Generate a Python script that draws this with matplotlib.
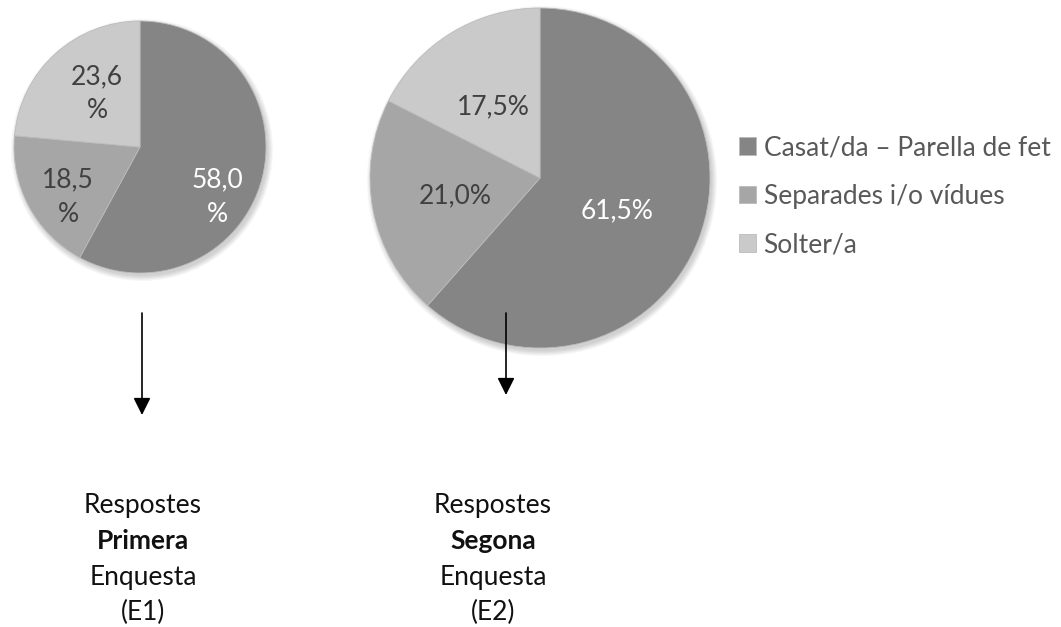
import matplotlib.pyplot as plt
from matplotlib.patches import Circle

# data
categories = ['Casat/da – Parella de fet', 'Separades i/o vídues', 'Solter/a']
e1_values = [58.0, 18.5, 23.6]
e2_values = [61.5, 21.0, 17.5]
e1_labels = ['58,0\n%', '18,5\n%', '23,6\n%']
e2_labels = ['61,5%', '21,0%', '17,5%']
colors = ['#858585', '#a6a6a6', '#cacaca']
label_colors = ['white', '#404040', '#404040']

plt.rcParams['font.family'] = ['Lato', 'DejaVu Sans']

W, H = 1061, 627
fig = plt.figure(figsize=(W / 100, H / 100), dpi=100)
ax = fig.add_axes([0, 0, 1, 1])
ax.set_xlim(0, W)
ax.set_ylim(0, H)
ax.set_aspect('equal')
ax.axis('off')


def shadow(cx, cy, r):
    for k in range(6):
        ax.add_patch(Circle((cx + 2, cy - 3), r + 5 - k, color='black',
                            alpha=0.03, lw=0, zorder=0))


def draw_pie(values, labels, cx, cy, r, offsets):
    shadow(cx, cy, r)
    wedges, texts = ax.pie(values, colors=colors, startangle=90, counterclock=False,
                           center=(cx, cy), radius=r, labels=labels,
                           labeldistance=0.6, frame=True,
                           wedgeprops=dict(linewidth=0.6, edgecolor='#bbbbbb'),
                           textprops=dict(fontsize=19, ha='center', va='center',
                                          linespacing=1.45))
    for t, c, off in zip(texts, label_colors, offsets):
        t.set_color(c)
        t.set_position((cx + off[0], cy + off[1]))
    return wedges


# label offsets from the centre, in pixels
w1 = draw_pie(e1_values, e1_labels, 140, 627 - 147, 126,
              [(77, -50), (-72, -50), (-43, 53)])
draw_pie(e2_values, e2_labels, 540, 627 - 178, 170,
         [(77, -33), (-85, -18), (-47, 71)])
ax.set_xlim(0, W)
ax.set_ylim(0, H)
ax.axis('off')

leg = ax.legend(w1, categories, loc='upper left', bbox_to_anchor=(728 / W, 1 - 125 / H),
                frameon=False, fontsize=19, labelspacing=0.88, handlelength=0.65,
                handleheight=0.65, handletextpad=0.3, borderaxespad=0)
for t in leg.get_texts():
    t.set_color('#595959')

# arrows
for x, y0, y1 in [(142, 313, 415), (506, 313, 395)]:
    ax.annotate('', xy=(x, H - y1), xytext=(x, H - y0),
                arrowprops=dict(arrowstyle='-|>', color='black', lw=1.2,
                                mutation_scale=26, shrinkA=0, shrinkB=0))

# captions
for x, word, tag in [(143, 'Primera', '(E1)'), (493, 'Segona', '(E2)')]:
    ax.text(x, H - 505, 'Respostes', ha='center', va='center', fontsize=19, color='#111111')
    ax.text(x, H - 541, word, ha='center', va='center', fontsize=19, fontweight='bold', color='#111111')
    ax.text(x, H - 577, 'Enquesta', ha='center', va='center', fontsize=19, color='#111111')
    ax.text(x, H - 612, tag, ha='center', va='center', fontsize=19, color='#111111')

fig.savefig('out.png', dpi=100)
